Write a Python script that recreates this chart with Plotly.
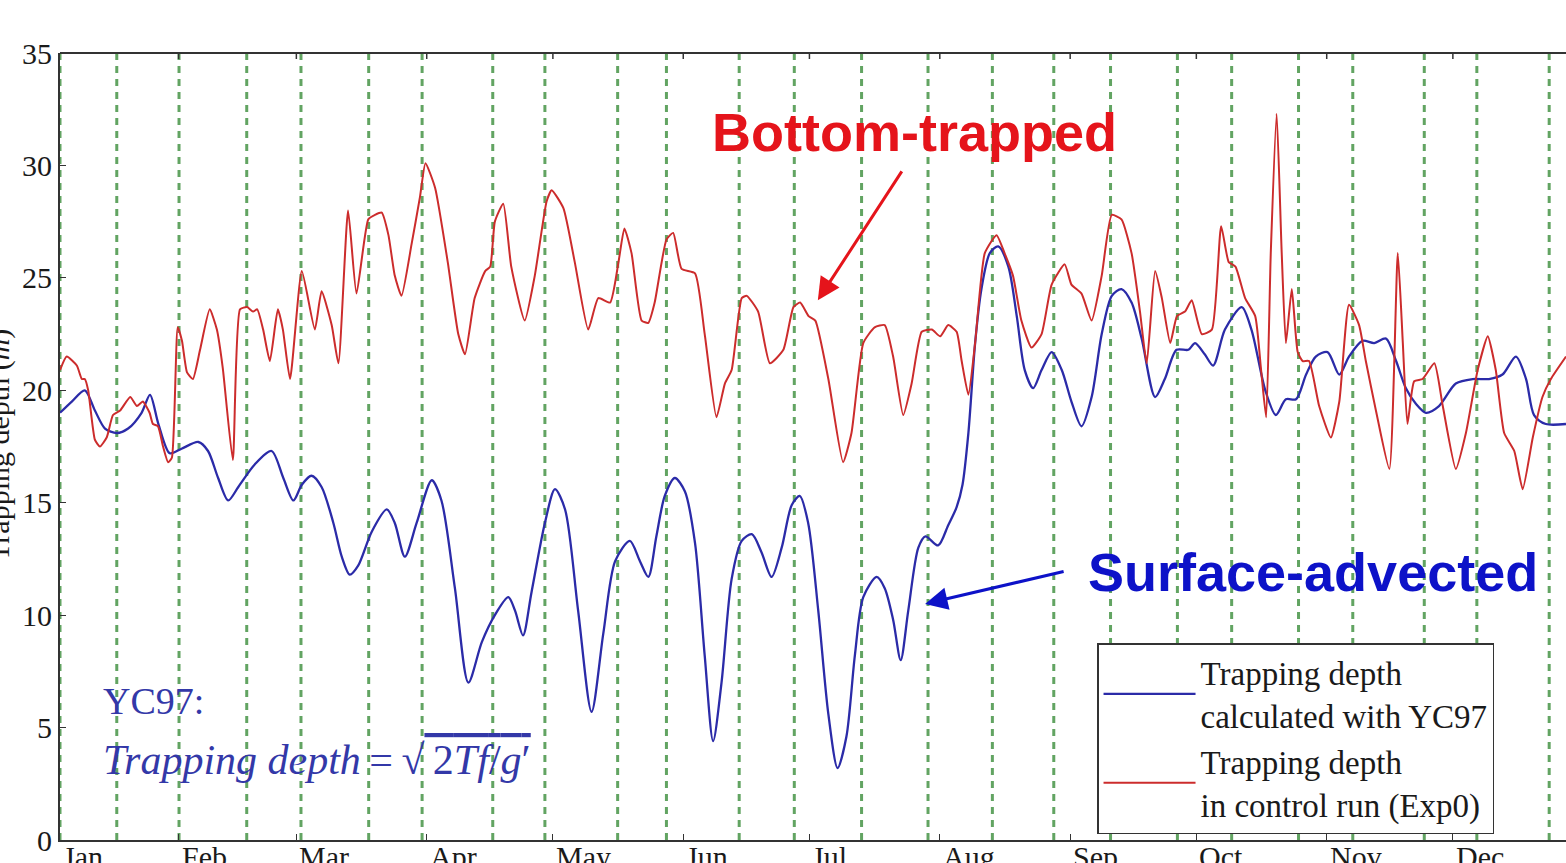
import plotly.graph_objects as go

# ---------------- data (day of year, Jan 1 = 0) ----------------
blue_days = [2.8, 5.6, 8.7, 11.1, 13.5, 16.3, 19.0, 22.2, 24.2, 26.2, 28.9, 31.7, 35.7, 38.0, 40.4,
             42.8, 45.2, 49.1, 53.1, 55.9, 58.3, 60.3, 62.6, 65.0, 67.8, 69.8, 71.7, 73.7, 76.9,
             80.5, 82.4, 84.8, 87.6, 91.2, 93.5, 96.7, 99.9, 103.1, 106.2, 109.4, 111.0, 112.9,
             114.9, 118.1, 120.5, 122.9, 126.0, 129.2, 132.0, 134.8, 138.3, 140.7, 142.7, 144.6,
             146.6, 149.0, 151.4, 153.8, 156.1, 158.1, 160.1, 162.5, 164.9, 167.3, 169.6, 172.0,
             174.4, 176.8, 178.7, 180.7, 183.1, 185.5, 187.7, 189.8, 191.8, 193.8, 197.0, 198.9,
             200.9, 202.7, 204.5, 206.9, 208.6, 211.6, 214.0, 216.0, 217.4, 218.8, 220.4, 221.9,
             223.9, 225.9, 228.3, 230.3, 232.2, 234.2, 236.2, 238.6, 241.0, 243.3, 245.7, 248.1,
             250.5, 252.9, 255.2, 257.6, 260.0, 263.2, 265.5, 268.3, 271.1, 272.7, 275.0, 277.0,
             279.8, 283.8, 286.1, 289.4, 291.9, 294.3, 296.7, 299.1, 301.4, 304.2, 307.0, 309.3,
             312.5, 315.3, 318.1, 320.5, 322.8, 325.2, 327.6, 330.7, 334.7, 338.7, 342.6, 345.8,
             349.0, 351.4, 353.3, 356.1, 360.9]
blue_vals = [19.0, 19.5, 20.0, 19.1, 18.3, 18.1, 18.3, 19.0, 19.8, 18.5, 17.2, 17.4, 17.7, 17.3, 16.1,
             15.1, 15.7, 16.7, 17.3, 16.1, 15.1, 15.8, 16.2, 15.7, 14.1, 12.6, 11.8, 12.2, 13.7,
             14.7, 14.1, 12.6, 14.1, 16.0, 15.1, 11.2, 7.0, 8.8, 10.0, 10.8, 10.2, 9.1,
             11.0, 14.1, 15.6, 14.7, 10.2, 5.7, 9.2, 12.4, 13.3, 12.4, 11.7, 13.5,
             15.3, 16.1, 15.5, 13.2, 8.2, 4.4, 7.0, 11.6, 13.3, 13.6, 12.8, 11.7,
             13.0, 14.9, 15.3, 14.1, 10.2, 5.6, 3.2, 4.6, 8.2, 10.8, 11.7, 11.2,
             9.8, 8.0, 10.2, 13.0, 13.5, 13.1, 14.0, 14.8, 15.8, 18.1, 22.1, 24.5,
             26.1, 26.4, 25.5, 23.3, 20.9, 20.1, 20.9, 21.7, 20.9, 19.5, 18.4, 19.7,
             22.5, 24.2, 24.5, 23.9, 22.3, 19.7, 20.5, 21.8, 21.8, 22.1, 21.6, 21.1,
             22.7, 23.7, 22.7, 20.0, 18.9, 19.6, 19.6, 20.7, 21.5, 21.7, 20.7, 21.5,
             22.2, 22.1, 22.3, 21.3, 20.1, 19.4, 19.0, 19.3, 20.3, 20.5, 20.5, 20.7,
             21.5, 20.5, 18.9, 18.5, 18.5]

red_days = [2.8, 4.4, 6.8, 8.0, 8.7, 9.5, 11.1, 12.3, 13.9, 15.4, 17.1, 19.5, 21.1, 22.5, 24.1,
            24.9, 26.1, 27.3, 28.5, 29.4, 30.8, 31.8, 33.0, 34.4, 36.1, 38.4, 40.1, 41.5, 43.9,
            45.6, 47.3, 48.7, 49.7, 51.1, 52.7, 54.6, 55.8, 57.5, 60.3, 63.4, 65.0, 67.4, 69.0,
            71.3, 73.3, 76.1, 77.7, 79.3, 80.9, 82.4, 84.0, 86.4, 88.4, 89.7, 92.0, 95.0, 97.5,
            99.1, 101.4, 103.9, 105.1, 106.2, 108.2, 110.1, 113.3, 115.7, 118.5, 119.7, 122.5,
            125.2, 128.4, 130.8, 133.6, 135.6, 137.0, 138.7, 141.1, 142.7, 144.2, 147.0, 148.6,
            150.6, 153.8, 156.1, 158.9, 160.9, 162.5, 164.9, 166.1, 168.8, 171.6, 174.8, 177.2,
            178.8, 180.8, 182.4, 185.5, 189.0, 191.0, 193.8, 196.5, 198.9, 200.9, 203.3, 205.3,
            207.7, 210.1, 212.1, 214.0, 216.0, 217.2, 218.8, 220.4, 222.7, 225.5, 227.4, 229.4,
            231.4, 233.8, 236.2, 238.6, 241.7, 243.3, 245.7, 248.1, 250.5, 252.9, 255.2, 257.6,
            259.6, 261.2, 263.2, 264.8, 266.8, 268.4, 270.3, 271.9, 274.3, 276.7, 278.9, 280.7,
            282.3, 284.6, 287.0, 288.4, 289.6, 290.7, 292.1, 293.3, 294.3, 295.7, 297.1, 298.3,
            299.8, 302.2, 305.0, 307.0, 309.3, 311.7, 313.3, 315.7, 318.9, 320.9, 322.1, 323.2,
            324.8, 326.8, 329.6, 331.6, 334.7, 337.1, 339.9, 342.3, 344.2, 346.2, 348.6, 350.6,
            353.0, 355.3, 357.3, 360.9]
red_vals = [20.9, 21.5, 21.1, 20.5, 20.5, 20.0, 17.8, 17.5, 17.9, 18.9, 19.1, 19.7, 19.3, 19.5, 19.0,
            18.5, 18.4, 17.5, 16.8, 17.0, 22.8, 22.2, 20.8, 20.5, 21.8, 23.6, 22.7, 21.0, 16.9,
            23.6, 23.7, 23.5, 23.6, 22.7, 21.3, 23.6, 22.7, 20.5, 25.3, 22.7, 24.4, 22.9, 21.2,
            28.0, 24.3, 27.6, 27.8, 27.9, 26.9, 25.1, 24.2, 26.5, 28.6, 30.1, 29.0, 25.7, 22.5,
            21.6, 24.1, 25.3, 25.5, 27.5, 28.3, 25.5, 23.1, 25.1, 28.4, 28.9, 28.1,
            25.7, 22.7, 24.1, 23.9, 25.7, 27.2, 26.1, 23.1, 23.0, 23.9, 26.7, 27.0,
            25.4, 25.2, 22.5, 18.8, 20.3, 20.9, 24.1, 24.2, 23.5, 21.2, 21.8, 23.7,
            23.9, 23.3, 23.1, 20.5, 16.8, 18.1, 22.1, 22.8, 22.9, 21.5, 18.9, 20.3,
            22.6, 22.7, 22.4, 22.9, 22.6, 21.3, 19.8, 22.1, 26.1, 26.9, 26.1, 25.1,
            23.1, 21.9, 22.5, 24.7, 25.6, 24.7, 24.3, 23.1, 25.1, 27.8, 27.6, 26.1,
            23.5, 21.2, 25.3, 24.1, 22.1, 23.3, 23.5, 24.0, 22.5, 22.7, 27.3, 25.7,
            25.5, 24.1, 23.3, 20.9, 18.8, 26.1, 32.3, 26.1, 22.1, 24.5, 21.7, 21.3,
            21.3, 19.3, 17.9, 19.5, 23.8, 22.9, 21.3, 19.1, 16.5, 26.1, 22.1, 18.5,
            20.4, 20.5, 21.2, 19.3, 16.5, 18.1, 20.9, 22.4, 20.9, 18.1, 17.3, 15.6,
            17.9, 19.7, 20.5, 21.5]

green_days = [2.8, 16.3, 31.1, 47.2, 60.1, 76.2, 88.9, 105.7, 118.1, 135.4, 147.0, 164.3, 177.4,
              193.4, 209.2, 224.5, 239.1, 252.6, 268.5, 281.4, 297.3, 310.2, 327.2, 339.7, 356.9]

month_names = ["Jan", "Feb", "Mar", "Apr", "May", "Jun", "Jul", "Aug", "Sep", "Oct", "Nov", "Dec"]
month_days = [2.8, 31, 59, 90, 120, 151, 181, 212, 243, 273, 304, 334]
y_ticks = [0, 5, 10, 15, 20, 25, 30, 35]

X_RANGE = [2.8, 360.9]
SERIF = "Liberation Serif, Times New Roman, serif"
SANS = "Liberation Sans, Arial, sans-serif"
AXC = "#333333"

fig = go.Figure()
fig.add_trace(go.Scatter(
    x=blue_days, y=blue_vals, mode="lines",
    name="Trapping depth<br>calculated with YC97",
    line=dict(color="#2b2ba8", width=2.3, shape="spline", smoothing=0.8)))
fig.add_trace(go.Scatter(
    x=red_days, y=red_vals, mode="lines",
    name="Trapping depth<br>in control run (Exp0)",
    line=dict(color="#cc2c2c", width=2, shape="spline", smoothing=0.5)))

for d in green_days:
    fig.add_shape(type="line", xref="x", yref="paper", x0=d, x1=d, y0=0, y1=1,
                  line=dict(color="rgb(98,164,98)", width=3, dash="7px,6px"), layer="below")

# top frame line with small inward ticks at month starts
fig.add_shape(type="line", xref="paper", yref="paper", x0=0, x1=1, y0=1, y1=1,
              line=dict(color=AXC, width=2))
for d in month_days[1:]:
    fig.add_shape(type="line", xref="x", yref="paper", ysizemode="pixel", yanchor=1,
                  x0=d, x1=d, y0=0, y1=-6, line=dict(color=AXC, width=1.5))

# month labels (left-aligned at month start)
for name, d in zip(month_names, month_days):
    fig.add_annotation(x=d, xref="x", y=0, yref="paper", yanchor="top", xanchor="left",
                       text=name, showarrow=False, yshift=2, xshift=1,
                       font=dict(family=SERIF, size=30, color="#1a1a1a"))

# y-axis title (mostly cut off at the left edge)
fig.add_annotation(x=0, xref="paper", y=0.502, yref="paper", xanchor="center", yanchor="middle",
                   xshift=-61, textangle=-90, text="Trapping depth (<i>m</i>)", showarrow=False,
                   font=dict(family=SERIF, size=30, color="#1a1a1a"))

# big labels
fig.add_annotation(x=157.3, y=31.5, xref="x", yref="y", xanchor="left", yanchor="middle",
                   text="<b>Bottom-trapped</b>", showarrow=False,
                   font=dict(family=SANS, size=54, color="#e5141b"))
fig.add_annotation(x=246.7, y=11.9, xref="x", yref="y", xanchor="left", yanchor="middle",
                   text="<b>Surface-advected</b>", showarrow=False,
                   font=dict(family=SANS, size=54, color="#0d12c8"))

# arrows
fig.add_annotation(x=183.0, y=24.0, ax=203.2, ay=29.8, xref="x", yref="y", axref="x", ayref="y",
                   text="", showarrow=True, arrowhead=2, arrowsize=1.5, arrowwidth=3,
                   arrowcolor="#e5141b", standoff=0)
fig.add_annotation(x=208.5, y=10.5, ax=241.8, ay=11.96, xref="x", yref="y", axref="x", ayref="y",
                   text="", showarrow=True, arrowhead=2, arrowsize=1.5, arrowwidth=3,
                   arrowcolor="#0d12c8", standoff=0)

# YC97 formula
fig.add_annotation(x=12.5, y=6.2, xref="x", yref="y", xanchor="left", yanchor="middle",
                   text="YC97:", showarrow=False,
                   font=dict(family=SERIF, size=38, color="#3338a8"))
fig.add_annotation(x=12.5, y=3.55, xref="x", yref="y", xanchor="left", yanchor="middle",
                   text="<i>Trapping depth</i>\u2009=\u2009√<span style='text-decoration:overline'>\u20092<i>Tf</i>/<i>g</i>′</span>",
                   showarrow=False,
                   font=dict(family=SERIF, size=42, color="#3338a8"))

fig.update_layout(
    width=1566, height=863,
    margin=dict(l=60, r=0, t=53, b=23),
    paper_bgcolor="white", plot_bgcolor="white",
    showlegend=True,
    legend=dict(x=0.6886, y=0.2503, xanchor="left", yanchor="top",
                bordercolor=AXC, borderwidth=1.5, bgcolor="white",
                itemwidth=92, tracegroupgap=0,
                font=dict(family=SERIF, size=33, color="#1a1a1a")),
    xaxis=dict(range=X_RANGE, showline=True, linecolor=AXC, linewidth=2, mirror=False,
               ticks="inside", tickvals=month_days[1:], ticklen=6, tickcolor=AXC,
               showticklabels=False, showgrid=False, zeroline=False),
    yaxis=dict(range=[0, 35], tickvals=y_ticks, showline=True, linecolor=AXC, linewidth=2,
               ticks="inside", ticklen=6, tickcolor=AXC, showgrid=False, zeroline=False,
               tickfont=dict(family=SERIF, size=30, color="#1a1a1a")),
)

fig.write_html("out.html", config={"displayModeBar": False},
               post_script="document.body.style.margin='0';document.body.style.overflow='hidden';")
